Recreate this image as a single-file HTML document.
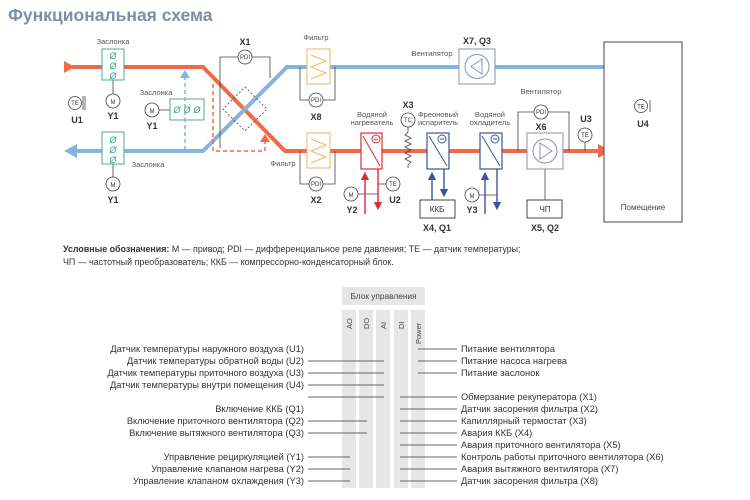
<!DOCTYPE html>
<html><head><meta charset="utf-8"><style>
body{margin:0;background:#fff;}
svg{display:block;font-family:"Liberation Sans","Noto Sans CJK SC",sans-serif;}
</style></head><body>
<svg width="750" height="500" viewBox="0 0 750 500" xmlns="http://www.w3.org/2000/svg">
<defs>
<marker id="ar" markerWidth="6" markerHeight="6" refX="3" refY="3" orient="auto"><path d="M0,0L6,3L0,6z" fill="#d9302c"/></marker>
<marker id="ab" markerWidth="6" markerHeight="6" refX="3" refY="3" orient="auto"><path d="M0,0L6,3L0,6z" fill="#3a559f"/></marker>
</defs>
<text x="8" y="21" font-size="17.5" font-weight="bold" fill="#7d8ea8">Функциональная схема</text>

<polyline points="72,67 203,67 285,151 600,151" fill="none" stroke="#ef6a45" stroke-width="4"/>
<path d="M64,61 L75,67 L64,73z" fill="#ef6a45"/>
<path d="M598,144 L611,151 L598,158z" fill="#ef6a45"/>
<polyline points="75,151 203,151 287,67 605,67" fill="none" stroke="#85b4de" stroke-width="4"/>
<path d="M64,151 L77,144 L77,158z" fill="#85b4de"/>
<path d="M600,67 L612,61 L612,73z" fill="#85b4de"/>

<rect x="604" y="42" width="78" height="180" fill="#fff" stroke="#444" stroke-width="1"/>
<text x="643" y="210" font-size="8" fill="#444" text-anchor="middle">Помещение</text>
<circle cx="641" cy="106" r="6.5" fill="#fff" stroke="#444" stroke-width="0.8"/><text x="641" y="108.5" font-size="6" text-anchor="middle" fill="#333">TE</text>
<line x1="650" y1="100" x2="650" y2="112" stroke="#444" stroke-width="0.8"/>
<text x="643" y="127" font-size="9" font-weight="bold" fill="#333" text-anchor="middle">U4</text>

<g stroke="#444" stroke-width="0.8" fill="#fff" font-size="7" >
<circle cx="75" cy="103" r="6.5"/>
<line x1="83" y1="96" x2="83" y2="110"/><line x1="85" y1="96" x2="85" y2="110"/>
<line x1="113" y1="80" x2="113" y2="94"/><circle cx="113" cy="101" r="7"/>
<line x1="113" y1="164" x2="113" y2="177"/><circle cx="113" cy="184" r="7"/>
<line x1="159" y1="110" x2="170" y2="110"/><circle cx="152" cy="110" r="7"/>
<polyline points="220,148 220,57 238,57" fill="none"/><polyline points="252,57 270,57 270,78" fill="none"/>
<circle cx="245" cy="57" r="7"/>
<polyline points="300,67 300,100 309,100" fill="none"/><polyline points="323,100 335,100 335,67" fill="none"/><circle cx="316" cy="100" r="7"/>
<polyline points="300,151 300,184 309,184" fill="none"/><polyline points="323,184 335,184 335,151" fill="none"/><circle cx="316" cy="184" r="7"/>
<line x1="358" y1="194" x2="378" y2="194"/><circle cx="351" cy="194" r="7"/>
<line x1="378" y1="184" x2="386" y2="184"/><circle cx="393" cy="184" r="7"/>
<circle cx="408" cy="120" r="7"/>
<line x1="479" y1="195" x2="497" y2="195"/><circle cx="472" cy="195" r="7"/>
<polyline points="518,151 518,112 534,112" fill="none"/><polyline points="548,112 569,112 569,151" fill="none"/><circle cx="541" cy="112" r="7"/>
<line x1="545" y1="168" x2="545" y2="200"/>
<line x1="585" y1="142" x2="585" y2="151"/><circle cx="585" cy="135" r="7"/>
</g>
<g font-size="6" fill="#333" text-anchor="middle">
<text x="75" y="105">TE</text><text x="113" y="104">M</text><text x="113" y="187">M</text><text x="152" y="113">M</text>
<text x="245" y="59">PDI</text><text x="316" y="102">PDI</text><text x="316" y="186">PDI</text>
<text x="351" y="197">M</text><text x="393" y="186">TE</text><text x="408" y="122">TC</text><text x="472" y="198">M</text>
<text x="541" y="114">PDI</text><text x="585" y="137">TE</text>
</g>
<g font-size="9" font-weight="bold" fill="#333" text-anchor="middle">
<text x="77" y="123">U1</text><text x="113" y="119">Y1</text><text x="113" y="203">Y1</text><text x="152" y="129">Y1</text>
<text x="245" y="45">X1</text><text x="316" y="120">X8</text><text x="316" y="203">X2</text>
<text x="352" y="213">Y2</text><text x="395" y="203">U2</text><text x="408" y="108">X3</text>
<text x="437" y="231">X4, Q1</text><text x="472" y="213">Y3</text><text x="541" y="130">X6</text>
<text x="545" y="231">X5, Q2</text><text x="586" y="122">U3</text><text x="477" y="44">X7, Q3</text>
</g>
<g font-size="7.5" fill="#555" text-anchor="middle">
<text x="113" y="44">Заслонка</text><text x="148" y="167">Заслонка</text><text x="156" y="95">Заслонка</text>
<text x="316" y="40">Фильтр</text><text x="283" y="166">Фильтр</text>
<text x="372" y="117">Водяной</text><text x="372" y="125">нагреватель</text>
<text x="438" y="117">Фреоновый</text><text x="438" y="125">испаритель</text>
<text x="490" y="117">Водяной</text><text x="490" y="125">охладитель</text>
<text x="541" y="94">Вентилятор</text><text x="432" y="56">Вентилятор</text>
</g>

<g stroke="#3aa37a" stroke-width="0.9" fill="#fff">
<rect x="102" y="49" width="22" height="31"/><rect x="102" y="132" width="22" height="32"/><rect x="170" y="99" width="34" height="21"/>
</g>
<g font-size="9" fill="#3aa37a" text-anchor="middle" font-style="italic">
<text x="113" y="59">Ø</text><text x="113" y="69">Ø</text><text x="113" y="79">Ø</text>
<text x="113" y="143">Ø</text><text x="113" y="153">Ø</text><text x="113" y="163">Ø</text>
<text x="177" y="113">Ø</text><text x="187" y="113">Ø</text><text x="197" y="113">Ø</text>
</g>
<line x1="185" y1="150" x2="185" y2="78" stroke="#85b4de" stroke-width="1.5" stroke-dasharray="4,3"/>
<path d="M180,78 L185,70 L190,78z" fill="#85b4de"/>
<polyline points="213,84 213,151 265,151 265,142" fill="none" stroke="#ef6a45" stroke-width="1.5" stroke-dasharray="4,3"/>
<path d="M260,142 L265,134 L270,142z" fill="#ef6a45"/>
<path d="M245,87 L267,109 L245,131 L223,109z" fill="none" stroke="#444" stroke-width="0.8" stroke-dasharray="2,2"/>

<g stroke="#f2b65a" stroke-width="1" fill="#fff">
<rect x="307" y="49" width="23" height="35"/><rect x="307" y="133" width="23" height="35"/>
<polyline points="311,55 326,61 311,67 326,73 311,79" fill="none"/>
<polyline points="311,139 326,145 311,151 326,157 311,163" fill="none"/>
</g>
<rect x="361" y="133" width="21" height="36" fill="#fff" stroke="#e0283a" stroke-width="1.2"/>
<line x1="363" y1="136" x2="380" y2="166" stroke="#e0283a" stroke-width="1"/>
<circle cx="376" cy="139" r="4" fill="#fff" stroke="#e0283a"/><text x="376" y="142" font-size="8" fill="#e0283a" text-anchor="middle">+</text>
<line x1="365" y1="214" x2="365" y2="176" stroke="#e0283a" stroke-width="1.4" marker-end="url(#ar)"/>
<line x1="378" y1="169" x2="378" y2="206" stroke="#e0283a" stroke-width="1.4" marker-end="url(#ar)"/>
<polyline points="408,127 408,132 405,135 411,138 405,141 411,144 405,147 411,150 405,153 411,156 405,159 411,162 408,165 408,168" fill="none" stroke="#444" stroke-width="0.8"/>
<g stroke="#3a559f" fill="#fff">
<rect x="427" y="133" width="22" height="36" stroke-width="1.2"/><line x1="429" y1="136" x2="447" y2="166"/>
<circle cx="442" cy="139" r="4"/>
<rect x="480" y="133" width="22" height="36" stroke-width="1.2"/><line x1="482" y1="136" x2="500" y2="166"/>
<circle cx="495" cy="139" r="4"/>
</g>
<line x1="440" y1="139" x2="444" y2="139" stroke="#3a559f"/><line x1="493" y1="139" x2="497" y2="139" stroke="#3a559f"/>
<line x1="432" y1="200" x2="432" y2="176" stroke="#3a559f" stroke-width="1.4" marker-end="url(#ab)"/>
<line x1="444" y1="169" x2="444" y2="193" stroke="#3a559f" stroke-width="1.4" marker-end="url(#ab)"/>
<line x1="485" y1="214" x2="485" y2="176" stroke="#3a559f" stroke-width="1.4" marker-end="url(#ab)"/>
<line x1="497" y1="169" x2="497" y2="206" stroke="#3a559f" stroke-width="1.4" marker-end="url(#ab)"/>
<rect x="420" y="200" width="35" height="18" fill="#fff" stroke="#333" stroke-width="0.9"/>
<text x="437" y="212" font-size="8" fill="#333" text-anchor="middle">ККБ</text>
<g stroke="#8a8fb8" fill="#fff" stroke-width="1">
<rect x="459" y="49" width="36" height="35"/><circle cx="477" cy="66.5" r="12"/>
<rect x="527" y="133" width="36" height="36"/><circle cx="545" cy="151" r="12"/>
</g>
<path d="M482,59 L471,66.5 L482,74z" fill="none" stroke="#8a8fb8"/>
<path d="M540,143 L552,151 L540,159z" fill="none" stroke="#8a8fb8"/>
<rect x="527" y="200" width="35" height="18" fill="#fff" stroke="#333" stroke-width="0.9"/>
<text x="545" y="212" font-size="8" fill="#333" text-anchor="middle">ЧП</text>

<text x="63" y="252" font-size="8.9" fill="#333"><tspan font-weight="bold">Условные обозначения:</tspan> М — привод; PDI — дифференциальное реле давления; TE — датчик температуры;</text>
<text x="63" y="265" font-size="8.9" fill="#333">ЧП — частотный преобразователь; ККБ — компрессорно-конденсаторный блок.</text>

<rect x="342" y="287" width="83" height="18" fill="#e6e6e6"/>
<text x="383.5" y="299" font-size="8.3" fill="#444" text-anchor="middle">Блок управления</text>
<g fill="#e6e6e6">
<rect x="342" y="310" width="14" height="178"/><rect x="359" y="310" width="14" height="178"/><rect x="376" y="310" width="14" height="178"/><rect x="394" y="310" width="14" height="178"/><rect x="411" y="310" width="14" height="178"/>
</g>
<g font-size="7.5" fill="#444">
<text transform="translate(352,329) rotate(-90)">AO</text>
<text transform="translate(369,329) rotate(-90)">DO</text>
<text transform="translate(386,329) rotate(-90)">AI</text>
<text transform="translate(404,329) rotate(-90)">DI</text>
<text transform="translate(421,344) rotate(-90)">Power</text>
</g>
<g stroke="#333" stroke-width="0.8">
<line x1="308" y1="361" x2="384" y2="361"/><line x1="308" y1="373" x2="384" y2="373"/><line x1="308" y1="385" x2="384" y2="385"/><line x1="308" y1="397" x2="384" y2="397"/>
<line x1="308" y1="421" x2="367" y2="421"/><line x1="308" y1="433" x2="367" y2="433"/>
<line x1="308" y1="457" x2="350" y2="457"/><line x1="308" y1="469" x2="350" y2="469"/><line x1="308" y1="481" x2="350" y2="481"/>
<line x1="418" y1="349" x2="457" y2="349"/><line x1="418" y1="361" x2="457" y2="361"/><line x1="418" y1="373" x2="457" y2="373"/>
<line x1="400" y1="397" x2="457" y2="397"/><line x1="400" y1="409" x2="457" y2="409"/><line x1="400" y1="421" x2="457" y2="421"/><line x1="400" y1="433" x2="457" y2="433"/><line x1="400" y1="445" x2="457" y2="445"/><line x1="400" y1="457" x2="457" y2="457"/><line x1="400" y1="469" x2="457" y2="469"/><line x1="400" y1="481" x2="457" y2="481"/>
</g>
<g font-size="9.3" fill="#333" text-anchor="end">
<text x="304" y="352">Датчик температуры наружного воздуха (U1)</text>
<text x="304" y="364">Датчик температуры обратной воды (U2)</text>
<text x="304" y="376">Датчик температуры приточного воздуха (U3)</text>
<text x="304" y="388">Датчик температуры внутри помещения (U4)</text>
<text x="304" y="412">Включение ККБ (Q1)</text>
<text x="304" y="424">Включение приточного вентилятора (Q2)</text>
<text x="304" y="436">Включение вытяжного вентилятора (Q3)</text>
<text x="304" y="460">Управление рециркуляцией (Y1)</text>
<text x="304" y="472">Управление клапаном нагрева (Y2)</text>
<text x="304" y="484">Управление клапаном охлаждения (Y3)</text>
</g>
<g font-size="9.3" fill="#333">
<text x="461" y="352">Питание вентилятора</text>
<text x="461" y="364">Питание насоса нагрева</text>
<text x="461" y="376">Питание заслонок</text>
<text x="461" y="400">Обмерзание рекуператора (X1)</text>
<text x="461" y="412">Датчик засорения фильтра (X2)</text>
<text x="461" y="424">Капиллярный термостат (X3)</text>
<text x="461" y="436">Авария ККБ (X4)</text>
<text x="461" y="448">Авария приточного вентилятора (X5)</text>
<text x="461" y="460">Контроль работы приточного вентилятора (X6)</text>
<text x="461" y="472">Авария вытяжного вентилятора (X7)</text>
<text x="461" y="484">Датчик засорения фильтра (X8)</text>
</g>
</svg>
</body></html>
